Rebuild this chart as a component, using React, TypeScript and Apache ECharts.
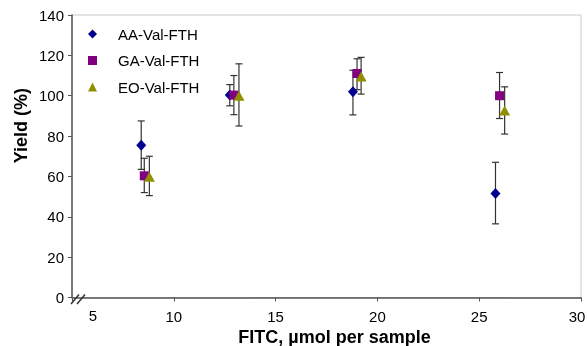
import React, { useEffect, useRef } from "react";
import * as echarts from "echarts";

const seriesNames = ["AA-Val-FTH", "GA-Val-FTH", "EO-Val-FTH"];
const aaX = [8.4, 12.75, 18.8, 25.8];
const aaY = [75.5, 100.3, 102, 51.6];
const aaLo = [63.5, 95, 90.5, 36.5];
const aaHi = [87.5, 105.5, 112.6, 67];
const gaX = [8.55, 12.95, 19.0, 26.0];
const gaY = [60.3, 100.3, 111, 100];
const gaLo = [52, 90.6, 103, 88.7];
const gaHi = [69, 110, 118.3, 111.5];
const eoX = [8.8, 13.2, 19.2, 26.25];
const eoY = [59.8, 100, 109.5, 92.7];
const eoLo = [50.5, 85, 100.8, 81];
const eoHi = [70, 115.8, 119, 104.4];
const colors = ["#00008f", "#800080", "#8f8f00"];
const symbols = ["diamond", "rect", "triangle"];
const symbolSizes = [[10, 11], [9, 9], [11, 10]];

const FONT = "'Liberation Sans', Arial, sans-serif";

export default function App() {
  const ref = useRef<HTMLDivElement>(null);
  useEffect(() => {
    const chart = echarts.init(ref.current!, null, { renderer: "svg" });
    const sets = [
      { x: aaX, y: aaY, lo: aaLo, hi: aaHi },
      { x: gaX, y: gaY, lo: gaLo, hi: gaHi },
      { x: eoX, y: eoY, lo: eoLo, hi: eoHi },
    ];
    const errSeries = sets.map((s, i) => ({
      type: "custom",
      name: seriesNames[i] + " err",
      z: 1,
      data: s.x.map((x, j) => [x, s.lo[j], s.hi[j]]),
      encode: { x: 0, y: [1, 2] },
      renderItem: (params: any, api: any) => {
        const x = api.value(0);
        const lo = api.coord([x, api.value(1)]);
        const hi = api.coord([x, api.value(2)]);
        const w = 3.5;
        const style = { stroke: "#333", lineWidth: 1.2 };
        return {
          type: "group",
          children: [
            { type: "line", shape: { x1: lo[0], y1: lo[1], x2: hi[0], y2: hi[1] }, style },
            { type: "line", shape: { x1: lo[0] - w, y1: lo[1], x2: lo[0] + w, y2: lo[1] }, style },
            { type: "line", shape: { x1: hi[0] - w, y1: hi[1], x2: hi[0] + w, y2: hi[1] }, style },
          ],
        };
      },
    }));
    const scatterSeries = sets.map((s, i) => ({
      type: "scatter",
      name: seriesNames[i],
      z: 3,
      symbol: symbols[i],
      symbolSize: symbolSizes[i],
      itemStyle: { color: colors[i], opacity: 1 },
      data: s.x.map((x, j) => [x, s.y[j]]),
    }));
    chart.setOption({
      animation: false,
      grid: {
        left: 72,
        right: 6,
        top: 15,
        bottom: 48.5,
        outerBoundsMode: "none",
        containLabel: false,
        show: true,
        borderColor: "#c8c8c8",
        borderWidth: 1,
      },
      legend: {
        data: seriesNames.map((n, i) => ({
          name: n,
          icon: symbols[i],
          itemStyle: { color: colors[i], opacity: 1 },
        })),
        orient: "vertical",
        left: 83,
        top: 20,
        itemWidth: 9,
        itemHeight: 9,
        itemGap: 8.5,
        textStyle: {
          fontFamily: FONT,
          fontSize: 15,
          color: "#000",
          padding: [0, 0, 0, 16],
          lineHeight: 18,
        },
      },
      xAxis: {
        type: "value",
        min: 5,
        max: 30,
        interval: 5,
        name: "FITC, µmol per sample",
        nameLocation: "middle",
        nameGap: 23,
        nameTextStyle: {
          fontFamily: FONT,
          fontSize: 18,
          fontWeight: "bold",
          color: "#000",
          padding: [0, 0, 0, 16],
        },
        axisLine: { lineStyle: { color: "#555", width: 1.5 } },
        axisTick: { show: true, length: 4, lineStyle: { color: "#555" } },
        axisLabel: {
          fontFamily: FONT,
          fontSize: 15,
          color: "#000",
          margin: 11,
          formatter: (v: number) => (v === 5 ? "" : v === 30 ? "{r|30}" : String(v)),
          rich: {
            r: { fontFamily: FONT, fontSize: 15, color: "#000", padding: [0, 8, 0, 0] },
          },
        },
        splitLine: { show: false },
      },
      yAxis: {
        type: "value",
        min: 0,
        max: 140,
        interval: 20,
        axisLine: { show: true, lineStyle: { color: "#555", width: 1.5 } },
        axisTick: { show: true, length: 4, lineStyle: { color: "#555" } },
        axisLabel: {
          fontFamily: FONT,
          fontSize: 15,
          color: "#000",
          margin: 8,
          padding: [5, 0, 0, 0],
        },
        splitLine: { show: false },
      },
      graphic: [
        {
          type: "text",
          left: 12,
          top: 88,
          rotation: Math.PI / 2,
          style: {
            text: "Yield (%)",
            x: 0,
            y: 0,
            fontFamily: FONT,
            fontSize: 18,
            fontWeight: "bold",
            fill: "#000",
          },
        },
        {
          type: "text",
          x: 93,
          y: 315,
          style: {
            text: "5",
            fontFamily: FONT,
            fontSize: 15,
            fill: "#000",
            align: "center",
            verticalAlign: "middle",
          },
        },
        {
          type: "line",
          shape: { x1: 71, y1: 304, x2: 79, y2: 294.5 },
          style: { stroke: "#333", lineWidth: 1.5 },
          z: 10,
        },
        {
          type: "line",
          shape: { x1: 77, y1: 304, x2: 85, y2: 294.5 },
          style: { stroke: "#333", lineWidth: 1.5 },
          z: 10,
        },
      ],
      series: [...errSeries, ...scatterSeries],
    });
    return () => chart.dispose();
  }, []);
  return (
    <div
      ref={ref}
      style={{ position: "fixed", left: 0, top: 0, width: 587, height: 346 }}
    />
  );
}
